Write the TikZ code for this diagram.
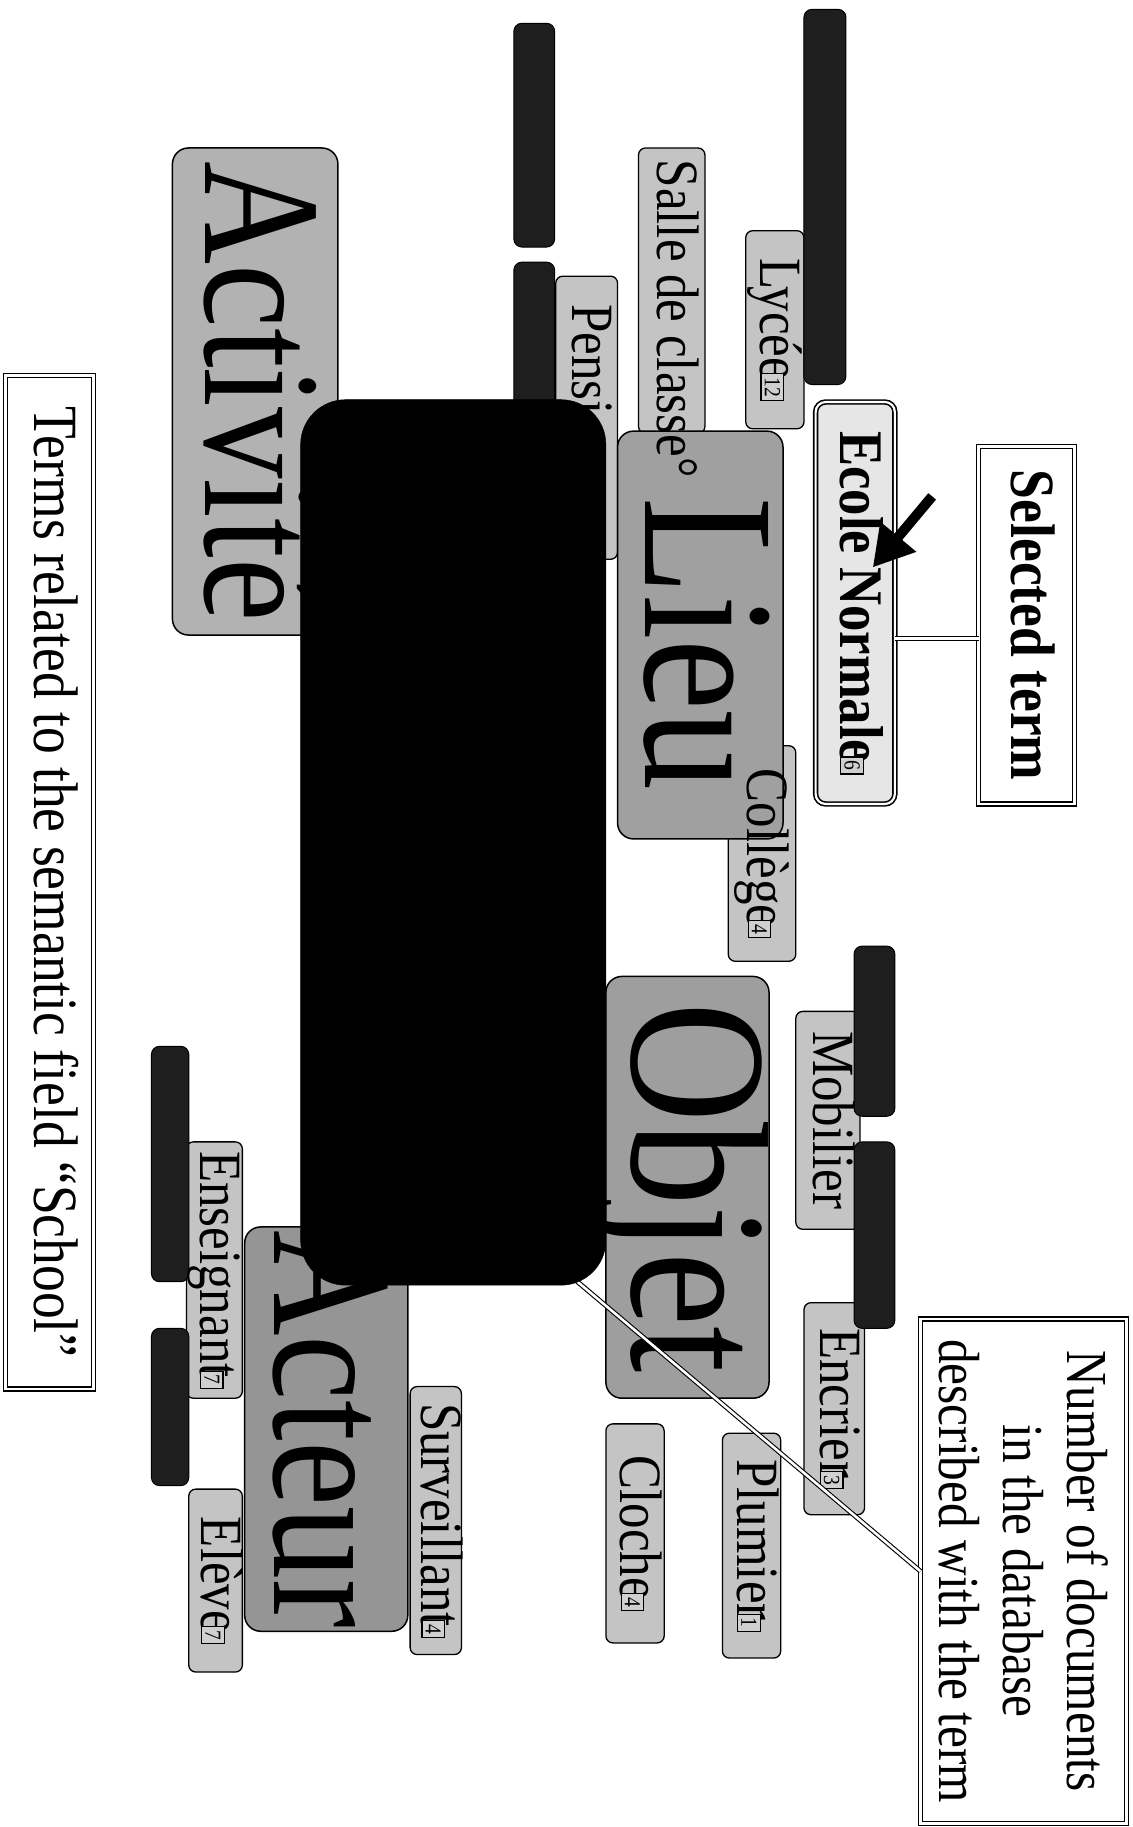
\documentclass[tikz,border=0pt]{standalone}
\usepackage{fontspec}
\setmainfont{Liberation Serif}
\newfontfamily\myserif[FakeStretch=0.85]{Liberation Serif}
\usetikzlibrary{arrows.meta,calc}
\definecolor{smallfill}{HTML}{C4C4C4}
\definecolor{actfill}{HTML}{B2B2B2}
\definecolor{lieufill}{HTML}{A0A0A0}
\definecolor{objfill}{HTML}{9E9E9E}
\definecolor{actrfill}{HTML}{959595}
\definecolor{ecolefill}{HTML}{E6E6E6}
\definecolor{barfill}{HTML}{1E1E1E}
\definecolor{badgefill}{HTML}{D0D0D0}
\newcommand\tbx[6]{%
 \pgfmathsetmacro\tbcx{(#2+#4)/2}%
 \pgfmathsetmacro\tbcy{(#3+#5)/2}%
 \pgfmathsetmacro\tbw{(#5-#3)*1.1656}%
 \pgfmathsetmacro\tbh{(#4-#2)*1.1656}%
 \node[rotate=-90, inner sep=0pt, outer sep=0pt, minimum width=\tbw pt, minimum height=\tbh pt, #6] (#1) at (\tbcx,\tbcy) {};}
\newcommand\badge[1]{\hspace{-7pt}\raisebox{4pt}{\setlength\fboxsep{3pt}\setlength\fboxrule{1.3pt}\fcolorbox{black}{badgefill}{\fontsize{23pt}{23pt}\selectfont\myserif #1}}}
\tikzset{lbl/.code={\pgfmathsetmacro\lblh{0.69*#1}\pgfmathsetmacro\lbld{0.22*#1}%
 \pgfkeysalso{/tikz/rotate=-90,/tikz/inner sep=0pt,/tikz/font=\fontsize{#1pt}{#1pt}\selectfont\myserif,/tikz/text height=\lblh pt,/tikz/text depth=\lbld pt}}}
\begin{document}
\begin{tikzpicture}[x=1.1656pt,y=-1.1656pt,
 frame/.style={draw=black, line width=1.2pt, double=white, double distance=2.8pt},
 sbox/.style={draw=black, line width=1.3pt, fill=smallfill, rounded corners=7pt},
 bbox/.style={draw=black, line width=1.5pt, rounded corners=16pt},
 bar/.style={draw=black, line width=1pt, fill=barfill, rounded corners=8pt},
 conn/.style={draw=black, line width=1.1pt, double=white, double distance=2.6pt}]
\useasboundingbox (0,0) rectangle (972,1568);
\fill[white] (0,0) rectangle (972,1568);
% framed captions
\tbx{terms}{5}{322}{80}{1192}{frame, fill=white}
\tbx{sel}{840}{383}{922}{690}{frame, fill=white}
\tbx{num}{790}{1132}{967}{1565}{frame, fill=white}
% term boxes
\tbx{lycee}{640}{198}{690}{368}{sbox}
\tbx{salle}{548}{127}{605}{372}{sbox}
\tbx{pens}{477}{237}{530}{480}{sbox}
\tbx{college}{625}{640}{683}{825}{sbox}
\tbx{activite}{148}{127}{290}{545}{bbox, fill=actfill}
\tbx{lieu}{530}{370}{672}{720}{bbox, fill=lieufill}
\tbx{mobilier}{683}{868}{738}{1055}{sbox}
\tbx{encrier}{690}{1118}{742}{1300}{sbox}
\tbx{plumier}{620}{1230}{670}{1423}{sbox}
\tbx{cloche}{520}{1222}{570}{1410}{sbox}
\tbx{objet}{520}{838}{660}{1200}{bbox, fill=objfill}
\tbx{surv}{352}{1190}{396}{1420}{sbox}
\tbx{enseig}{160}{980}{208}{1200}{sbox}
\tbx{eleve}{162}{1278}{208}{1435}{sbox}
\tbx{acteur}{210}{1053}{350}{1400}{bbox, fill=actrfill}
\tbx{ecole}{700}{345}{768}{690}{draw=black, line width=1.6pt, double=white, double distance=2.2pt, fill=ecolefill, rounded corners=10pt}
% dark bars
\tbx{bari}{690}{8}{726}{330}{bar}
\tbx{barii}{441}{20}{476}{212}{bar}
\tbx{bariii}{441}{225}{476}{350}{bar}
\tbx{bariv}{733}{812}{768}{958}{bar}
\tbx{barv}{733}{980}{768}{1140}{bar}
\tbx{barvi}{130}{898}{162}{1100}{bar}
\tbx{barvii}{130}{1140}{162}{1275}{bar}
% labels
\node[lbl=63] (termsl) at (terms) {Terms related to the semantic field “School”};
\node[lbl=63] (sell) at (sel) {\textbf{Selected term}};
\node[rotate=-90, inner sep=0pt, align=center, font=\fontsize{58pt}{64pt}\selectfont\myserif] (numl) at (num) {Number of documents\\in the database\\described with the term};
\node[lbl=60] (lyceel) at (lycee) {Lycée\badge{12}};
\node[lbl=60, anchor=west] (sallel) at ($(salle.west)+(0,10)$) {Salle de classe°};
\node[lbl=60, anchor=west] (pensl) at ($(pens.west)+(0,24)$) {Pensi};
\node[lbl=60] (collegel) at (college) {Collège\badge{4}};
\node[lbl=168] (activitel) at ($(activite)+(-9,0)$) {Activité};
\node[lbl=188] (lieul) at ($(lieu)+(-9,8)$) {Lieu};
\node[lbl=60] (mobilierl) at (mobilier) {Mobilier};
\node[lbl=60] (encrierl) at (encrier) {Encrier\badge{3}};
\node[lbl=60] (plumierl) at (plumier) {Plumier\badge{1}};
\node[lbl=60] (clochel) at (cloche) {Cloche\badge{4}};
\node[lbl=196] (objetl) at ($(objet)+(-8,0)$) {Objet};
\node[lbl=60] (survl) at (surv) {Surveillant\badge{4}};
\node[lbl=60] (enseigl) at (enseig) {Enseignant\badge{7}};
\node[lbl=60] (elevel) at (eleve) {Elève\badge{7}};
\node[lbl=172] (acteurl) at ($(acteur)+(-10,0)$) {Acteur};
\node[lbl=62] (ecolel) at (ecole) {\textbf{Ecole Normale}\badge{6}};
% connectors
\coordinate (sj) at (800,548);
\draw[conn] (ecole.north |- sj) -- (sel.south |- sj);
\coordinate (ptr) at (492,1097);
\draw[conn] (ptr) -- (num.south);
% hidden block
\tbx{hidden}{258}{343}{520}{1103}{fill=black, draw=black, rounded corners=45pt}
% pointer arrow
\coordinate (arrs) at (800,426);
\coordinate (arrt) at (749,487);
\draw[line width=10pt, -{Triangle[length=40pt,width=44pt]}] (arrs) -- (arrt);
\end{tikzpicture}
\end{document}
